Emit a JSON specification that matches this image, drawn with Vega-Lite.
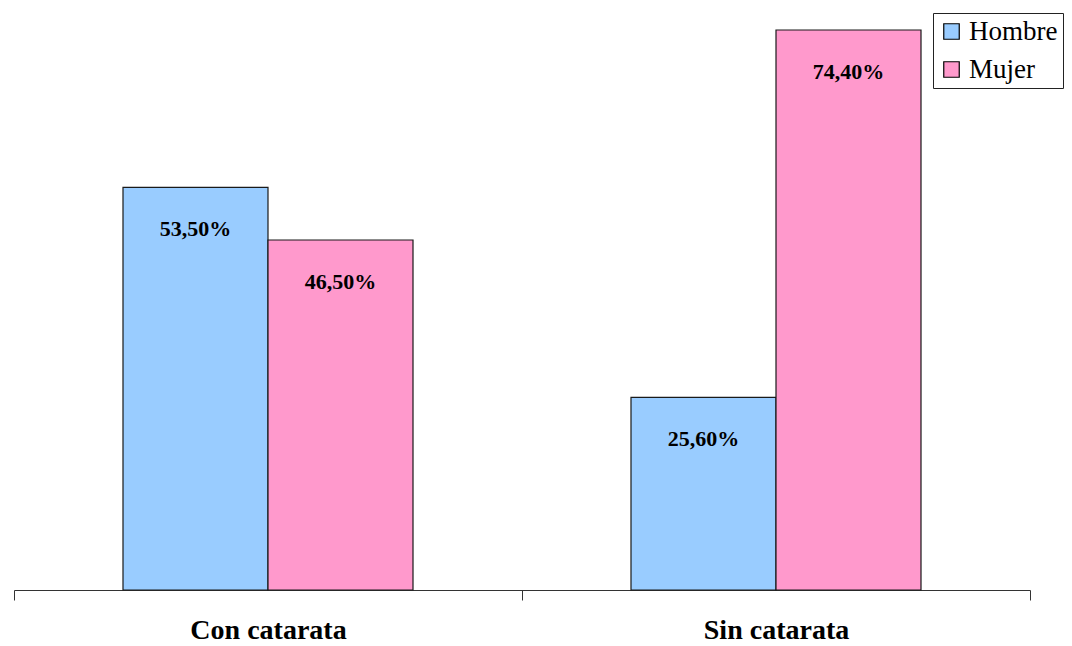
{
  "$schema": "https://vega.github.io/schema/vega-lite/v6.json",
  "autosize": {"type": "none"},
  "width": 1016,
  "height": 560,
  "padding": {"left": 14, "top": 30, "right": 42, "bottom": 56},
  "background": "white",
  "config": {
    "view": {"stroke": null},
    "locale": {
      "number": {"decimal": ",", "thousands": ".", "grouping": [3], "currency": ["", " €"]}
    }
  },
  "data": {
    "values": [
      {"grupo": "Con catarata", "sexo": "Hombre", "valor": 0.535},
      {"grupo": "Con catarata", "sexo": "Mujer", "valor": 0.465},
      {"grupo": "Sin catarata", "sexo": "Hombre", "valor": 0.256},
      {"grupo": "Sin catarata", "sexo": "Mujer", "valor": 0.744}
    ]
  },
  "encoding": {
    "x": {
      "field": "grupo",
      "type": "nominal",
      "sort": ["Con catarata", "Sin catarata"],
      "title": null,
      "scale": {"paddingInner": 0, "paddingOuter": 0},
      "axis": {
        "domainColor": "#333333",
        "domainWidth": 1,
        "tickColor": "#333333",
        "tickSize": 10,
        "tickBand": "extent",
        "labelAngle": 0,
        "labelFont": "Liberation Serif",
        "labelFontWeight": "bold",
        "labelFontSize": 28,
        "labelColor": "black",
        "labelPadding": 16
      }
    },
    "xOffset": {
      "field": "sexo",
      "type": "nominal",
      "sort": ["Hombre", "Mujer"],
      "scale": {"paddingInner": 0, "paddingOuter": 0.7517}
    },
    "y": {
      "field": "valor",
      "type": "quantitative",
      "scale": {"domain": [0, 0.744], "nice": false},
      "axis": null
    }
  },
  "layer": [
    {
      "mark": {"type": "bar", "stroke": "#1a1a1a", "strokeWidth": 1.2},
      "encoding": {
        "color": {
          "field": "sexo",
          "type": "nominal",
          "sort": ["Hombre", "Mujer"],
          "scale": {"domain": ["Hombre", "Mujer"], "range": ["#99CCFF", "#FF99CC"]},
          "legend": {
            "title": null,
            "orient": "none",
            "legendX": 919,
            "legendY": -17,
            "direction": "vertical",
            "symbolType": "square",
            "symbolSize": 240,
            "symbolStrokeColor": "black",
            "symbolStrokeWidth": 1.2,
            "labelFont": "Liberation Serif",
            "labelFontSize": 27,
            "labelColor": "black",
            "labelOffset": 4,
            "rowPadding": 10,
            "padding": 5,
            "strokeColor": "#222222",
            "fillColor": "white"
          }
        }
      }
    },
    {
      "mark": {
        "type": "text",
        "baseline": "middle",
        "dy": 42,
        "font": "Liberation Serif",
        "fontWeight": "bold",
        "fontSize": 22,
        "color": "black"
      },
      "encoding": {
        "text": {"field": "valor", "type": "quantitative", "format": ".2%"}
      }
    }
  ]
}
